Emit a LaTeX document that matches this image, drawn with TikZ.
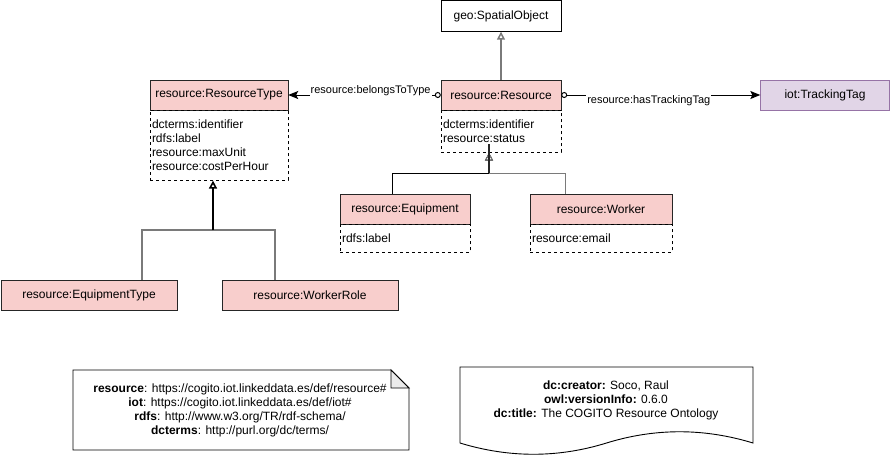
\documentclass[tikz,border=0pt]{standalone}
\usepackage{fontspec}
\setmainfont{Liberation Sans}
\usetikzlibrary{arrows.meta, positioning, calc}

\definecolor{clsfill}{HTML}{F8CECC}
\definecolor{tagfill}{HTML}{E1D5E7}
\definecolor{tagdraw}{HTML}{9673A6}
\definecolor{genline}{HTML}{7A7A7A}
\definecolor{foldfill}{HTML}{EBEBEB}

\begin{document}
\begin{tikzpicture}[
    x=1pt, y=-1pt,
    font=\fontsize{12}{14}\selectfont,
    cls/.style={rectangle, draw=black!85, fill=clsfill, minimum height=30pt, inner sep=2pt, align=center},
    plain/.style={rectangle, draw=black, fill=white, minimum height=31pt, align=center},
    attrs/.style={rectangle, draw=black, dashed, align=left, inner xsep=2pt, inner ysep=1pt},
    gen/.style={-{Triangle[open, length=8pt, width=8pt]}, black, line width=0.9pt},
    prop/.style={{Circle[open, length=6pt]}-{Stealth[length=10pt, width=8pt, inset=2pt]}, black, line width=1pt},
    lbl/.style={fill=white, inner xsep=1pt, inner ysep=2.5pt, font=\fontsize{11}{13}\selectfont},
    notetext/.style={align=center, inner sep=0pt}
]
\useasboundingbox (0,0) rectangle (891,456);

% Top classes
\node[plain, minimum width=120pt] (spatial) at (501,16) {geo:SpatialObject};
\node[cls, minimum width=120pt] (res) at (501,95) {resource:Resource};
\node[attrs, below=0pt of res, text width=116pt, minimum height=42pt] (resattr) {dcterms:identifier\\resource:status};

\node[cls, minimum width=138pt] (rtype) at (219,95) {resource:ResourceType};
\node[attrs, below=0pt of rtype, text width=134pt, minimum height=70pt] (rtattr) {dcterms:identifier\\rdfs:label\\resource:maxUnit\\resource:costPerHour};

\node[cls, fill=tagfill, draw=tagdraw, minimum width=129pt] (tag) at (825,95) {iot:TrackingTag};

% Subclasses of Resource
\node[cls, minimum width=130pt] (equip) at (405,209) {resource:Equipment};
\node[attrs, below=0pt of equip, text width=126pt, minimum height=28pt] (equipattr) {rdfs:label};
\node[cls, minimum width=142pt] (worker) at (601,209) {resource:Worker};
\node[attrs, below=0pt of worker, text width=138pt, minimum height=28pt] (workerattr) {resource:email};

% Subclasses of ResourceType
\node[cls, minimum width=176pt] (eqtype) at (89,295) {resource:EquipmentType};
\node[cls, minimum width=176pt] (wrole) at (310,295) {resource:WorkerRole};

% Junctions
\coordinate (jres) at (489,173);
\coordinate (jtype) at (213,230);

% Arrows
\draw[gen, genline, line width=1.5pt] (res) -- (spatial);
\draw[prop] (res.west) -- node[lbl, pos=0.46, yshift=4pt] (belongs) {resource:belongsToType} (rtype.east);
\draw[prop] (res.east) -- node[lbl, pos=0.44, yshift=-6pt] (tracking) {resource:hasTrackingTag} (tag.west);

\draw[gen] ([xshift=-13pt]equip.north) |- (jres) -- (jres |- resattr.south);
\draw[gen, genline] ([xshift=-36pt]worker.north) |- (jres) -- (jres |- resattr.south);
\draw[black!85, line width=1.6pt] (jres) -- ([yshift=9pt]jres |- resattr.south);

\draw[genline, line width=1.5pt] ([xshift=53pt]eqtype.north) |- (jtype);
\draw[genline, line width=1.5pt] ([xshift=-35pt]wrole.north) |- (jtype);
\draw[gen, line width=1.6pt] (jtype) -- (jtype |- rtattr.south);

% Namespaces note
\node[notetext] (ns) at (240,410) {\textbf{resource}: https://cogito.iot.linkeddata.es/def/resource\#\\
  \textbf{iot}: https://cogito.iot.linkeddata.es/def/iot\#\\
  \textbf{rdfs}: http://www.w3.org/TR/rdf-schema/\\
  \textbf{dcterms}: http://purl.org/dc/terms/};
\draw[black, line width=0.9pt] (73,370) -- (391,370) -- (409,388) -- (409,450) -- (73,450) -- cycle;
\draw[black, fill=foldfill, line width=0.9pt] (391,370) -- (391,388) -- (409,388) -- cycle;

% Metadata document
\node[notetext] (meta) at (606,400) {\textbf{dc:creator:} Soco, Raul\\
  \textbf{owl:versionInfo:} 0.6.0\\
  \textbf{dc:title:} The COGITO Resource Ontology};
\draw[black, line width=0.9pt] (460,367) -- (753,367) -- (753,443)
  .. controls (704,428) and (655,428) .. (606.5,443)
  .. controls (558,458) and (509,458) .. (460,443) -- cycle;

\end{tikzpicture}
\end{document}
